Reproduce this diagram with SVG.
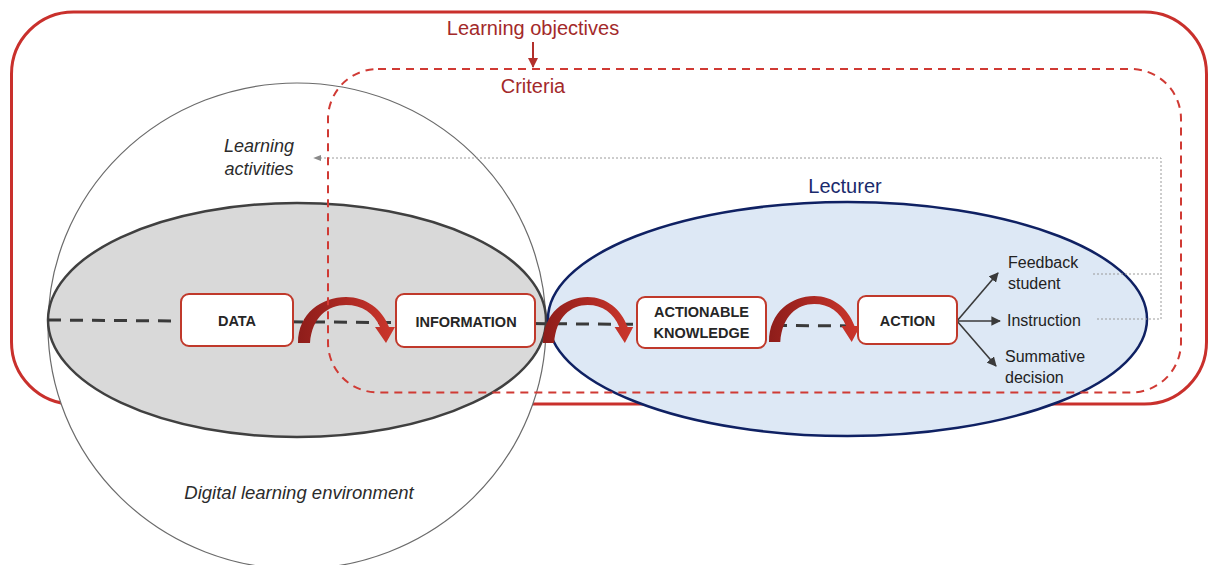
<svg xmlns="http://www.w3.org/2000/svg" width="1215" height="565" viewBox="0 0 1215 565">
  <style>
    .lbl { font-family: "Liberation Sans", Arial, sans-serif; }
    .red { fill: #a3292a; font-size: 20px; }
    .it { font-style: italic; fill: #2b2b2b; }
    .box { fill: #ffffff; stroke: #c0392b; stroke-width: 2; }
    .boxtxt { font-weight: bold; font-size: 14.5px; fill: #262626; text-anchor: middle; }
    .out { fill: #222222; font-size: 16px; }
    .hop { fill: url(#hopGrad); }
    .dot { fill: none; stroke: #9a9a9a; stroke-width: 1; stroke-dasharray: 2 2; }
    .branch { fill: none; stroke: #3a3a3a; stroke-width: 1.6; marker-end: url(#darkHead); }
  </style>
  <defs>
    <linearGradient id="hopGrad" x1="0" y1="0" x2="1" y2="0">
      <stop offset="0" stop-color="#8e1d1a"/>
      <stop offset="1" stop-color="#cc362c"/>
    </linearGradient>
    <marker id="darkHead" viewBox="0 0 10 10" refX="9" refY="5" markerWidth="6" markerHeight="6" orient="auto">
      <path d="M0,0 L10,5 L0,10 Z" fill="#3a3a3a"/>
    </marker>
    <marker id="greyHead" viewBox="0 0 10 10" refX="9" refY="5" markerWidth="8" markerHeight="8" orient="auto">
      <path d="M0,1 L10,5 L0,9 Z" fill="#8a8a8a"/>
    </marker>
    <marker id="redHead" viewBox="0 0 10 10" refX="9" refY="5" markerWidth="5" markerHeight="5" orient="auto">
      <path d="M0,0 L10,5 L0,10 Z" fill="#b3302b"/>
    </marker>
    <!-- curved hop arrow, origin at the lower-left foot -->
    <path id="hop" d="M0,0 C0,-30 24,-46 48,-46 C68,-46 84,-34 91,-16 L97,-16 L88,0 L77,-16 L82,-16 C76,-30 64,-38 48,-38 C30,-38 14,-26 12,0 Z"/>
  </defs>

  <!-- learning objectives frame -->
  <g id="objectives-frame">
    <rect x="11.5" y="12" width="1195" height="392" rx="62" ry="62" fill="none" stroke="#c9302c" stroke-width="3"/>
  </g>

  <!-- digital learning environment -->
  <g id="environment">
    <ellipse cx="297" cy="326" rx="249" ry="243" fill="#ffffff" stroke="#6b6b6b" stroke-width="1.2"/>
  </g>

  <!-- data / information domain -->
  <g id="data-domain">
    <ellipse cx="297" cy="320" rx="249" ry="117" fill="#d9d9d9" stroke="#404040" stroke-width="2.5"/>
  </g>

  <!-- lecturer domain -->
  <g id="lecturer-domain">
    <ellipse cx="847.5" cy="319" rx="299.5" ry="117" fill="#dde8f5" stroke="#0f2163" stroke-width="2.5"/>
  </g>

  <g id="connectors">
    <!-- main dashed axis -->
    <line x1="48" y1="320" x2="858" y2="326" stroke="#3a3a3a" stroke-width="3" stroke-dasharray="13 9"/>
    <!-- hops between stages -->
    <use href="#hop" class="hop" transform="translate(298,343)"/>
    <use href="#hop" class="hop" transform="translate(543,343) scale(0.93,1)"/>
    <use href="#hop" class="hop" transform="translate(769,342) scale(0.94,1)"/>
    <!-- outcomes of action -->
    <line class="branch" x1="957" y1="321" x2="998" y2="273"/>
    <line class="branch" x1="957" y1="321" x2="1000" y2="321"/>
    <line class="branch" x1="957" y1="321" x2="996" y2="366"/>
    <!-- feedback loop back to learning activities -->
    <polyline class="dot" points="1093,274 1161,274"/>
    <polyline class="dot" points="1097,319 1161,319 1161,158 314,158" marker-end="url(#greyHead)"/>
    <!-- objectives inform criteria -->
    <line x1="533" y1="42" x2="533" y2="67" stroke="#b3302b" stroke-width="2" marker-end="url(#redHead)"/>
  </g>

  <!-- criteria frame -->
  <g id="criteria-frame">
    <rect x="328" y="69" width="853" height="323.5" rx="50" ry="50" fill="none" stroke="#d03a34" stroke-width="2" stroke-dasharray="8 6"/>
  </g>

  <g id="data">
    <rect class="box" x="181" y="294" width="112" height="52" rx="8"/>
    <text class="lbl boxtxt" x="237" y="326">DATA</text>
  </g>
  <g id="information">
    <rect class="box" x="396" y="294" width="139" height="53" rx="8"/>
    <text class="lbl boxtxt" x="466" y="327">INFORMATION</text>
  </g>
  <g id="actionable-knowledge">
    <rect class="box" x="637" y="297" width="129" height="51" rx="8"/>
    <text class="lbl boxtxt" x="701.5" y="317">ACTIONABLE</text>
    <text class="lbl boxtxt" x="701.5" y="338">KNOWLEDGE</text>
  </g>
  <g id="action">
    <rect class="box" x="858" y="296" width="99" height="48" rx="8"/>
    <text class="lbl boxtxt" x="907.5" y="326">ACTION</text>
  </g>

  <g id="labels">
    <text class="lbl red" x="533" y="35" text-anchor="middle">Learning objectives</text>
    <text class="lbl red" x="533" y="93" text-anchor="middle">Criteria</text>
    <text class="lbl" x="845" y="193" text-anchor="middle" font-size="20" fill="#1a2a6c">Lecturer</text>
    <text class="lbl it" x="259" y="152" text-anchor="middle" font-size="18">Learning</text>
    <text class="lbl it" x="259" y="175" text-anchor="middle" font-size="18">activities</text>
    <text class="lbl it" x="299" y="499" text-anchor="middle" font-size="18.5">Digital learning environment</text>
    <text class="lbl out" x="1008" y="268">Feedback</text>
    <text class="lbl out" x="1008" y="289">student</text>
    <text class="lbl out" x="1007" y="326">Instruction</text>
    <text class="lbl out" x="1005" y="362">Summative</text>
    <text class="lbl out" x="1005" y="383">decision</text>
  </g>
</svg>
